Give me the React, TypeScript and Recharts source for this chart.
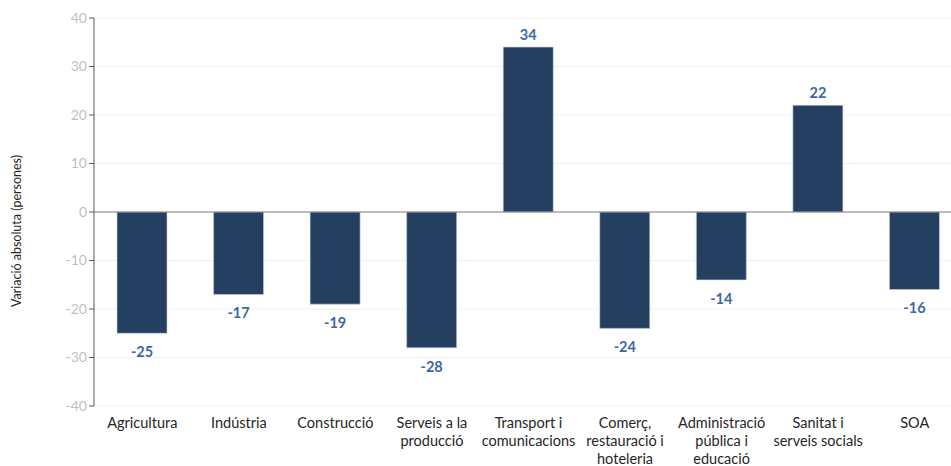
import { BarChart, Bar, XAxis, YAxis, CartesianGrid, ReferenceLine, LabelList } from 'recharts';

const categories = [
  'Agricultura',
  'Indústria',
  'Construcció',
  'Serveis a la\nproducció',
  'Transport i\ncomunicacions',
  'Comerç,\nrestauració i\nhoteleria',
  'Administració\npública i\neducació',
  'Sanitat i\nserveis socials',
  'SOA',
];
const values = [-25, -17, -19, -28, 34, -24, -14, 22, -16];
const yTicks = [-40, -30, -20, -10, 0, 10, 20, 30, 40];

const data = categories.map((name, i) => ({ name, value: values[i] }));

const FONT = 'Lato, "Open Sans", sans-serif';

const CategoryTick = (props: any) => {
  const { x, y, payload } = props;
  const lines = String(payload.value).split('\n');
  return (
    <text x={x} y={y} textAnchor="middle" fill="#262626" fontSize={14.5} fontFamily={FONT}>
      {lines.map((l, i) => (
        <tspan key={i} x={x} dy={i === 0 ? 14 : 18}>
          {l}
        </tspan>
      ))}
    </text>
  );
};

const ValueLabel = (props: any) => {
  const { x, y, width, height, value } = props;
  const top = Math.min(y, y + height);
  const bottom = Math.max(y, y + height);
  const ly = value >= 0 ? top - 11 : bottom + 20;
  return (
    <text
      x={x + width / 2}
      y={ly}
      textAnchor="middle"
      dominantBaseline="middle"
      fill="#3f68a2"
      fontSize={14.5}
      fontWeight="bold"
      fontFamily={FONT}
    >
      {value}
    </text>
  );
};

const YTitle = () => (
  <text
    x={18}
    y={231}
    transform="rotate(-90 18 231)"
    textAnchor="middle"
    dominantBaseline="middle"
    fill="#262626"
    fontSize={12.5}
    fontFamily={FONT}
  >
    Variació absoluta (persones)
  </text>
);

export default function App() {
  return (
    <div style={{ position: 'absolute', left: 0, top: 0, width: 951, height: 466, overflow: 'hidden', background: '#fff' }}>
      <BarChart width={970} height={466} data={data} margin={{ top: 18, right: 7, bottom: 0, left: 0 }}>
        <CartesianGrid vertical={false} stroke="#f0f0f0" />
        <XAxis dataKey="name" height={60} axisLine={false} tickLine={false} interval={0} tick={<CategoryTick />} />
        <YAxis
          width={94}
          domain={[-40, 40]}
          ticks={yTicks}
          interval={0}
          axisLine={{ stroke: '#595959' }}
          tickLine={{ stroke: '#595959' }}
          tickSize={5}
          tick={{ fill: '#bfbfbf', fontSize: 14, fontFamily: FONT }}
          label={<YTitle />}
        />
        <ReferenceLine y={0} stroke="#7f7f7f" />
        <Bar dataKey="value" fill="#253f60" stroke="#c8d2de" strokeWidth={0.6} barSize={50} isAnimationActive={false}>
          <LabelList dataKey="value" content={<ValueLabel />} />
        </Bar>
      </BarChart>
    </div>
  );
}
